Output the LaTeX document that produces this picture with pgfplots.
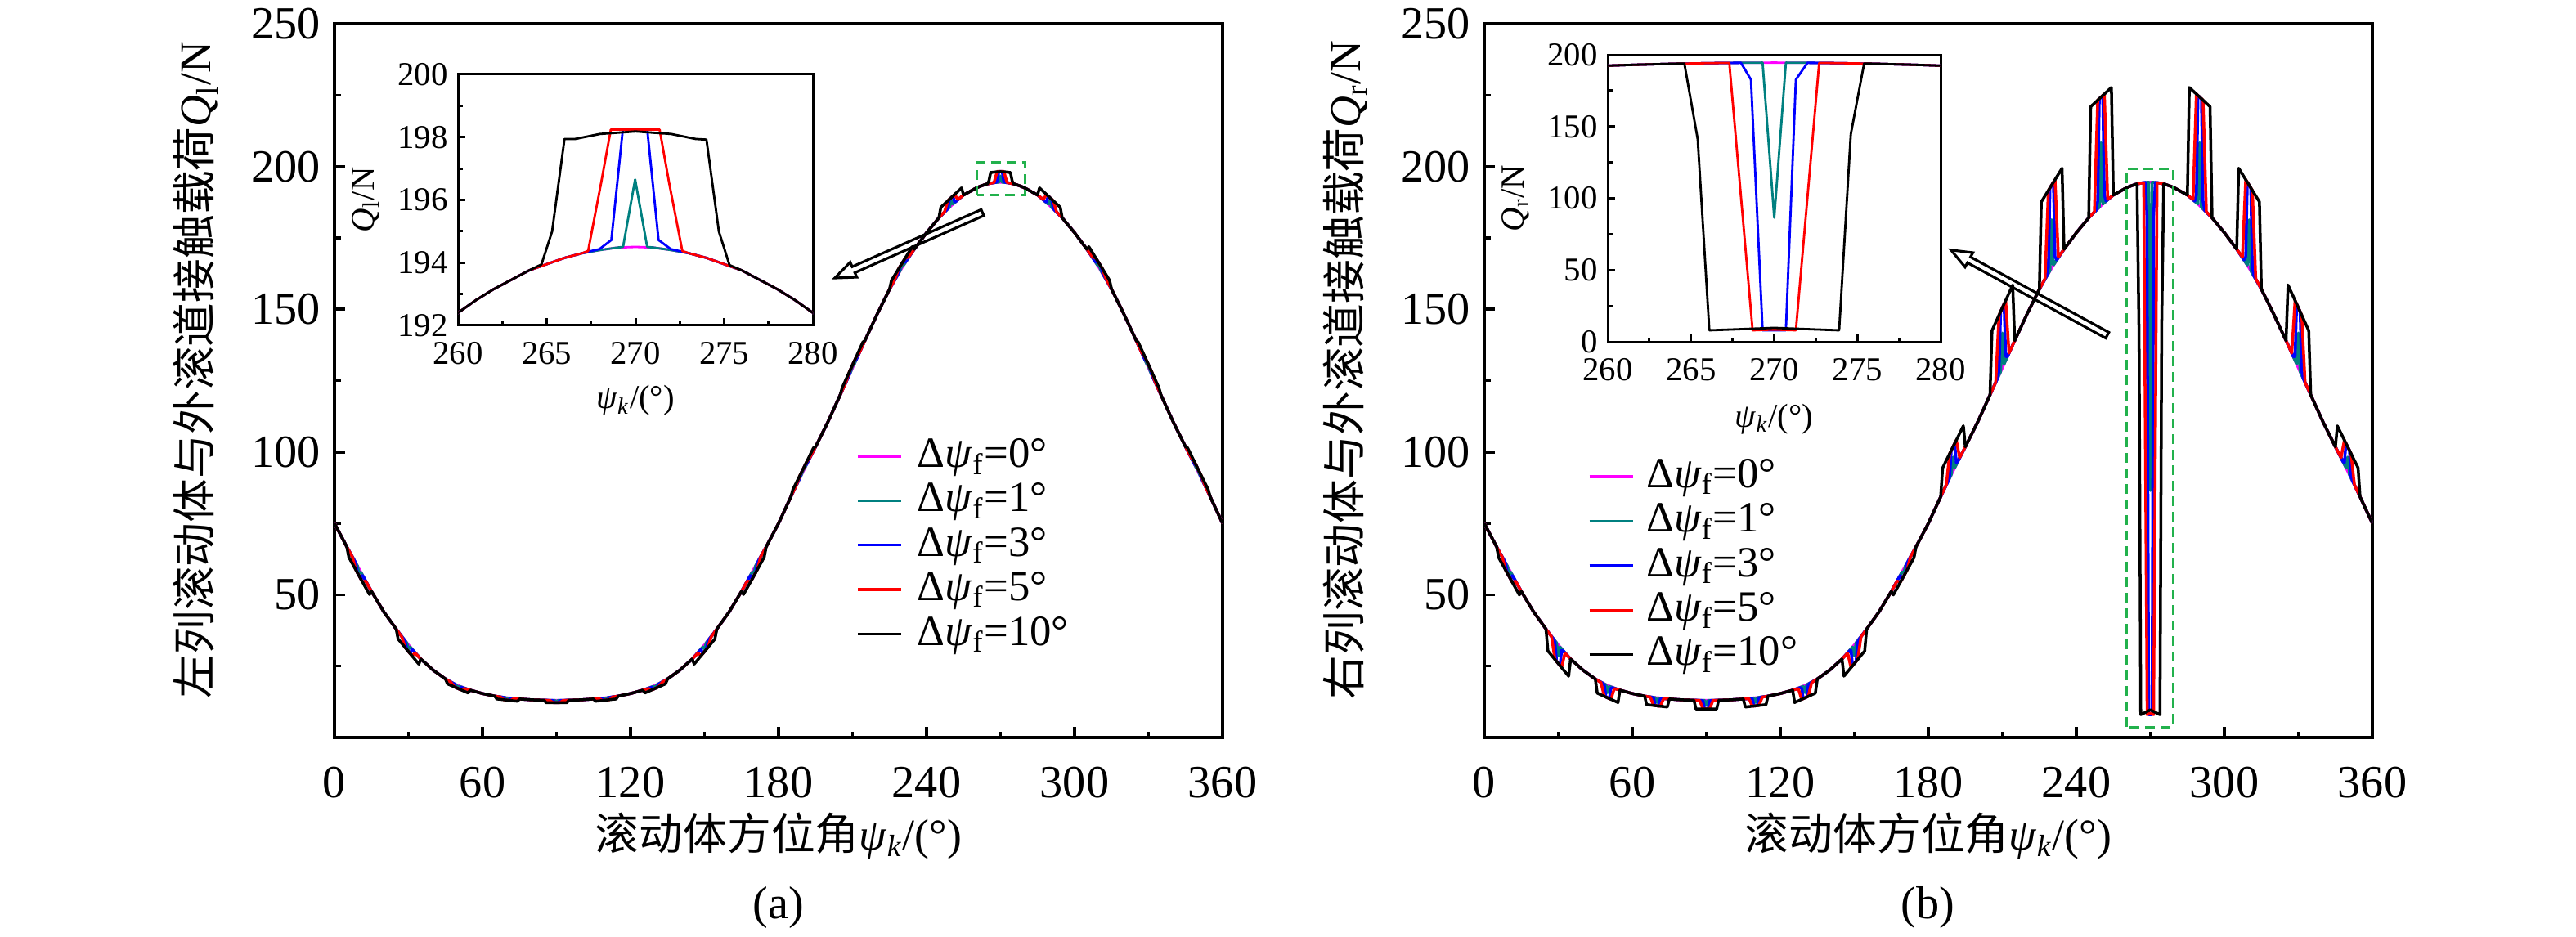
\documentclass[border=0pt]{standalone}
\usepackage{fontspec}
\setmainfont{Liberation Serif}
\newfontfamily\cjk{Noto Sans CJK SC}
\usepackage{pgfplots}
\pgfplotsset{compat=1.18}
\usepackage{pgfplotstable}
\definecolor{cMag}{RGB}{255,0,255}
\definecolor{cTeal}{RGB}{0,128,128}
\definecolor{cBlue}{RGB}{0,0,255}
\definecolor{cRed}{RGB}{255,0,0}
\definecolor{cGreen}{RGB}{34,177,76}
\newcommand{\legfont}{\fontsize{15}{15}\selectfont}

% base curve (Delta psi_f = 0)
\pgfplotstableread[row sep=\\]{x y\\
0 75.0\\ 5 66.8\\ 10 59.0\\ 15 51.2\\ 20 44.0\\ 25 38.0\\ 30 32.4\\ 35 27.5\\ 40 23.6\\ 45 20.5\\ 50 18.2\\ 55 16.6\\ 60 15.4\\ 65 14.5\\ 70 13.9\\ 75 13.5\\ 80 13.2\\ 85 13.05\\ 90 13.0\\ 95 13.05\\ 100 13.2\\ 105 13.5\\ 110 13.9\\ 115 14.5\\ 120 15.4\\ 125 16.6\\ 130 18.2\\ 135 20.5\\ 140 23.6\\ 145 27.5\\ 150 32.4\\ 155 38.0\\ 160 44.0\\ 165 51.2\\ 170 59.0\\ 175 66.8\\ 180 75.0\\ 185 84.3\\ 190 93.3\\ 195 101.8\\ 200 110.5\\ 205 120.0\\ 210 129.5\\ 215 139.0\\ 220 148.3\\ 225 157.0\\ 230 164.5\\ 235 171.0\\ 240 176.8\\ 245 182.0\\ 250 186.3\\ 255 190.0\\ 260 192.4\\ 261 192.8\\ 262 193.15\\ 263 193.45\\ 264 193.75\\ 265 193.95\\ 266 194.15\\ 267 194.3\\ 268 194.4\\ 269 194.48\\ 270 194.5\\ 271 194.48\\ 272 194.4\\ 273 194.3\\ 274 194.15\\ 275 193.95\\ 276 193.75\\ 277 193.45\\ 278 193.15\\ 279 192.8\\ 280 192.4\\ 285 190.0\\ 290 186.3\\ 295 182.0\\ 300 176.8\\ 305 171.0\\ 310 164.5\\ 315 157.0\\ 320 148.3\\ 325 139.0\\ 330 129.5\\ 335 120.0\\ 340 110.5\\ 345 101.8\\ 350 93.3\\ 355 84.3\\ 360 75.0\\
}\TM

% ---------- left row ----------
\pgfplotstableread[row sep=\\]{x y\\
0 75.0\\ 5 66.8\\ 9.3 60.09\\ 10 57.61\\ 10.7 57.91\\ 15 51.2\\ 20 44.0\\ 25 38.0\\ 29.3 33.14\\ 30 31.07\\ 30.7 31.67\\ 35 27.5\\ 40 23.6\\ 45 20.5\\ 49.3 18.47\\ 50 17.62\\ 50.7 17.93\\ 55 16.6\\ 60 15.4\\ 65 14.5\\ 69.3 13.97\\ 70 13.44\\ 70.7 13.83\\ 75 13.5\\ 80 13.2\\ 85 13.05\\ 89.3 13.0\\ 90 12.54\\ 90.7 13.0\\ 95 13.05\\ 100 13.2\\ 105 13.5\\ 109.3 13.83\\ 110 13.44\\ 110.7 13.97\\ 115 14.5\\ 120 15.4\\ 125 16.6\\ 129.3 17.93\\ 130 17.62\\ 130.7 18.47\\ 135 20.5\\ 140 23.6\\ 145 27.5\\ 149.3 31.67\\ 150 31.07\\ 150.7 33.14\\ 155 38.0\\ 160 44.0\\ 165 51.2\\ 169.3 57.91\\ 170 57.61\\ 170.7 60.09\\ 175 66.8\\ 180 75.0\\ 185 84.3\\ 189.3 92.08\\ 190 93.76\\ 190.7 94.53\\ 195 101.8\\ 200 110.5\\ 205 120.0\\ 209.3 128.17\\ 210 130.08\\ 210.7 130.83\\ 215 139.0\\ 220 148.3\\ 225 157.0\\ 229.3 163.52\\ 230 165.37\\ 230.7 165.48\\ 235 171.0\\ 240 176.8\\ 245 182.0\\ 249.3 185.74\\ 250 187.92\\ 250.7 186.86\\ 255 190.0\\ 260 192.4\\ 261 192.8\\ 262 193.15\\ 263 193.45\\ 264 193.75\\ 265 193.95\\ 266 194.15\\ 267 194.3\\ 268 194.4\\ 269 194.48\\ 269.3 194.5\\ 269.98 196.65\\ 270.66 194.5\\ 271 194.48\\ 272 194.4\\ 273 194.3\\ 274 194.15\\ 275 193.95\\ 276 193.75\\ 277 193.45\\ 278 193.15\\ 279 192.8\\ 280 192.4\\ 285 190.0\\ 289.3 186.86\\ 290 187.92\\ 290.7 185.74\\ 295 182.0\\ 300 176.8\\ 305 171.0\\ 309.3 165.48\\ 310 165.37\\ 310.7 163.52\\ 315 157.0\\ 320 148.3\\ 325 139.0\\ 329.3 130.83\\ 330 130.08\\ 330.7 128.17\\ 335 120.0\\ 340 110.5\\ 345 101.8\\ 349.3 94.53\\ 350 93.76\\ 350.7 92.08\\ 355 84.3\\ 360 75.0\\
}\TL

\pgfplotstableread[row sep=\\]{x y\\
0 75.0\\ 5 66.8\\ 8 62.12\\ 8.65 60.94\\ 9.3 57.69\\ 10.7 55.51\\ 11.35 56.72\\ 12 55.88\\ 15 51.2\\ 20 44.0\\ 25 38.0\\ 28 34.5\\ 28.65 33.66\\ 29.3 30.84\\ 30.7 29.37\\ 31.35 30.82\\ 32 30.3\\ 35 27.5\\ 40 23.6\\ 45 20.5\\ 48 18.98\\ 48.65 18.66\\ 49.3 17.47\\ 50.7 16.93\\ 51.35 17.6\\ 52 17.42\\ 55 16.6\\ 60 15.4\\ 65 14.5\\ 68 14.1\\ 68.65 13.98\\ 69.3 13.17\\ 70.7 13.03\\ 71.35 13.71\\ 72 13.7\\ 75 13.5\\ 80 13.2\\ 85 13.05\\ 88 13.0\\ 88.65 12.94\\ 89.3 12.2\\ 90.7 12.2\\ 91.35 12.94\\ 92 13.0\\ 95 13.05\\ 100 13.2\\ 105 13.5\\ 108 13.7\\ 108.65 13.71\\ 109.3 13.03\\ 110.7 13.17\\ 111.35 13.98\\ 112 14.1\\ 115 14.5\\ 120 15.4\\ 125 16.6\\ 128 17.42\\ 128.65 17.6\\ 129.3 16.93\\ 130.7 17.47\\ 131.35 18.66\\ 132 18.98\\ 135 20.5\\ 140 23.6\\ 145 27.5\\ 148 30.3\\ 148.65 30.82\\ 149.3 29.37\\ 150.7 30.84\\ 151.35 33.66\\ 152 34.5\\ 155 38.0\\ 160 44.0\\ 165 51.2\\ 168 55.88\\ 168.65 56.72\\ 169.3 55.51\\ 170.7 57.69\\ 171.35 60.94\\ 172 62.12\\ 175 66.8\\ 180 75.0\\ 185 84.3\\ 188 89.8\\ 188.65 91.0\\ 189.3 92.88\\ 190.7 95.33\\ 191.35 95.72\\ 192 96.8\\ 195 101.8\\ 200 110.5\\ 205 120.0\\ 208 125.7\\ 208.65 127.01\\ 209.3 129.17\\ 210.7 131.83\\ 211.35 132.14\\ 212 133.3\\ 215 139.0\\ 220 148.3\\ 225 157.0\\ 228 161.7\\ 228.65 162.71\\ 229.3 165.02\\ 230.7 166.98\\ 231.35 166.49\\ 232 167.3\\ 235 171.0\\ 240 176.8\\ 245 182.0\\ 248 184.7\\ 248.65 185.42\\ 249.3 188.54\\ 250.7 189.66\\ 251.35 187.58\\ 252 187.9\\ 255 190.0\\ 260 192.4\\ 261 192.8\\ 262 193.15\\ 263 193.45\\ 264 193.75\\ 265 193.95\\ 266 194.15\\ 267 194.3\\ 267.97 194.43\\ 268.64 194.72\\ 269.29 198.26\\ 270.66 198.26\\ 271.3 194.72\\ 271.99 194.43\\ 273 194.3\\ 274 194.15\\ 275 193.95\\ 276 193.75\\ 277 193.45\\ 278 193.15\\ 279 192.8\\ 280 192.4\\ 285 190.0\\ 288 187.9\\ 288.65 187.58\\ 289.3 189.66\\ 290.7 188.54\\ 291.35 185.42\\ 292 184.7\\ 295 182.0\\ 300 176.8\\ 305 171.0\\ 308 167.3\\ 308.65 166.49\\ 309.3 166.98\\ 310.7 165.02\\ 311.35 162.71\\ 312 161.7\\ 315 157.0\\ 320 148.3\\ 325 139.0\\ 328 133.3\\ 328.65 132.14\\ 329.3 131.83\\ 330.7 129.17\\ 331.35 127.01\\ 332 125.7\\ 335 120.0\\ 340 110.5\\ 345 101.8\\ 348 96.8\\ 348.65 95.72\\ 349.3 95.33\\ 350.7 92.88\\ 351.35 91.0\\ 352 89.8\\ 355 84.3\\ 360 75.0\\
}\BL

\pgfplotstableread[row sep=\\]{x y\\
0 75.0\\ 5 66.8\\ 7.3 63.21\\ 8.65 58.71\\ 11.35 54.49\\ 12.7 54.79\\ 15 51.2\\ 20 44.0\\ 25 38.0\\ 27.3 35.24\\ 28.65 31.52\\ 31.35 28.68\\ 32.7 29.57\\ 35 27.5\\ 40 23.6\\ 45 20.5\\ 47.3 19.25\\ 48.65 17.73\\ 51.35 16.67\\ 52.7 17.15\\ 55 16.6\\ 60 15.4\\ 65 14.5\\ 67.3 14.17\\ 68.65 13.24\\ 71.35 12.97\\ 72.7 13.63\\ 75 13.5\\ 80 13.2\\ 85 13.05\\ 87.3 13.0\\ 88.65 12.2\\ 91.35 12.2\\ 92.7 13.0\\ 95 13.05\\ 100 13.2\\ 105 13.5\\ 107.3 13.63\\ 108.65 12.97\\ 111.35 13.24\\ 112.7 14.17\\ 115 14.5\\ 120 15.4\\ 125 16.6\\ 127.3 17.15\\ 128.65 16.67\\ 131.35 17.73\\ 132.7 19.25\\ 135 20.5\\ 140 23.6\\ 145 27.5\\ 147.3 29.57\\ 148.65 28.68\\ 151.35 31.52\\ 152.7 35.24\\ 155 38.0\\ 160 44.0\\ 165 51.2\\ 167.3 54.79\\ 168.65 54.49\\ 171.35 58.71\\ 172.7 63.21\\ 175 66.8\\ 180 75.0\\ 185 84.3\\ 187.3 88.58\\ 188.65 91.74\\ 191.35 96.46\\ 192.7 98.03\\ 195 101.8\\ 200 110.5\\ 205 120.0\\ 207.3 124.37\\ 208.65 127.94\\ 211.35 133.07\\ 212.7 134.63\\ 215 139.0\\ 220 148.3\\ 225 157.0\\ 227.3 160.72\\ 228.65 164.11\\ 231.35 167.89\\ 232.7 168.28\\ 235 171.0\\ 240 176.8\\ 245 182.0\\ 247.3 184.14\\ 248.65 188.02\\ 251.35 190.18\\ 252.7 188.46\\ 255 190.0\\ 260 192.4\\ 261 192.8\\ 262 193.15\\ 263 193.45\\ 264 193.75\\ 265 193.95\\ 266 194.15\\ 267 194.3\\ 267.33 194.37\\ 268.06 196.53\\ 268.61 198.24\\ 271.36 198.24\\ 271.9 196.53\\ 272.64 194.37\\ 273 194.3\\ 274 194.15\\ 275 193.95\\ 276 193.75\\ 277 193.45\\ 278 193.15\\ 279 192.8\\ 280 192.4\\ 285 190.0\\ 287.3 188.46\\ 288.65 190.18\\ 291.35 188.02\\ 292.7 184.14\\ 295 182.0\\ 300 176.8\\ 305 171.0\\ 307.3 168.28\\ 308.65 167.89\\ 311.35 164.11\\ 312.7 160.72\\ 315 157.0\\ 320 148.3\\ 325 139.0\\ 327.3 134.63\\ 328.65 133.07\\ 331.35 127.94\\ 332.7 124.37\\ 335 120.0\\ 340 110.5\\ 345 101.8\\ 347.3 98.03\\ 348.65 96.46\\ 351.35 91.74\\ 352.7 88.58\\ 355 84.3\\ 360 75.0\\
}\RL

\pgfplotstableread[row sep=\\]{x y\\
0 75.0\\ 5 66.8\\ 5.8 63.2\\ 10 56.6\\ 14.2 50.1\\ 15 51.2\\ 20 44.0\\ 25 38.0\\ 25.8 34.5\\ 30 30.1\\ 34.2 25.7\\ 35 27.5\\ 40 23.6\\ 45 20.5\\ 45.8 18.8\\ 50 17.2\\ 54.2 15.6\\ 55 16.6\\ 60 15.4\\ 65 14.5\\ 65.8 13.5\\ 70 13.1\\ 74.2 12.7\\ 75 13.5\\ 80 13.2\\ 85 13.05\\ 85.8 12.2\\ 90 12.2\\ 94.2 12.2\\ 95 13.05\\ 100 13.2\\ 105 13.5\\ 105.8 12.7\\ 110 13.1\\ 114.2 13.5\\ 115 14.5\\ 120 15.4\\ 125 16.6\\ 125.8 15.6\\ 130 17.2\\ 134.2 18.8\\ 135 20.5\\ 140 23.6\\ 145 27.5\\ 145.8 25.7\\ 150 30.1\\ 154.2 34.5\\ 155 38.0\\ 160 44.0\\ 165 51.2\\ 165.8 50.1\\ 170 56.6\\ 174.2 63.2\\ 175 66.8\\ 180 75.0\\ 185 84.3\\ 185.8 86.8\\ 190 94.1\\ 194.2 101.5\\ 195 101.8\\ 200 110.5\\ 205 120.0\\ 205.8 122.5\\ 210 130.5\\ 214.2 138.5\\ 215 139.0\\ 220 148.3\\ 225 157.0\\ 225.8 160.1\\ 230 166.0\\ 234.2 171.9\\ 235 171.0\\ 240 176.8\\ 245 182.0\\ 245.8 185.7\\ 250 189.1\\ 254.2 192.5\\ 255 190.0\\ 260 192.4\\ 261 192.8\\ 262 193.15\\ 263 193.45\\ 264 193.75\\ 264.7 193.94\\ 265.3 194.99\\ 266.0 197.94\\ 266.6 197.94\\ 268 198.1\\ 270 198.18\\ 272 198.1\\ 273.4 197.94\\ 274.0 197.92\\ 274.7 194.99\\ 275.3 193.92\\ 276 193.75\\ 277 193.45\\ 278 193.15\\ 279 192.8\\ 280 192.4\\ 285 190.0\\ 285.8 192.5\\ 290 189.1\\ 294.2 185.7\\ 295 182.0\\ 300 176.8\\ 305 171.0\\ 305.8 171.9\\ 310 166.0\\ 314.2 160.1\\ 315 157.0\\ 320 148.3\\ 325 139.0\\ 325.8 138.5\\ 330 130.5\\ 334.2 122.5\\ 335 120.0\\ 340 110.5\\ 345 101.8\\ 345.8 101.5\\ 350 94.1\\ 354.2 86.8\\ 355 84.3\\ 360 75.0\\
}\KL

% ---------- right row ----------
\pgfplotstableread[row sep=\\]{x y\\
0 75.0\\ 5 66.8\\ 9.3 60.09\\ 10 57.55\\ 10.7 57.91\\ 15 51.2\\ 20 44.0\\ 25 38.0\\ 29.3 33.14\\ 30 28.63\\ 30.7 31.67\\ 35 27.5\\ 40 23.6\\ 45 20.5\\ 49.3 18.47\\ 50 15.71\\ 50.7 17.93\\ 55 16.6\\ 60 15.4\\ 65 14.5\\ 69.3 13.97\\ 70 12.28\\ 70.7 13.83\\ 75 13.5\\ 80 13.2\\ 85 13.05\\ 89.3 13.0\\ 90 11.26\\ 90.7 13.0\\ 95 13.05\\ 100 13.2\\ 105 13.5\\ 109.3 13.83\\ 110 12.28\\ 110.7 13.97\\ 115 14.5\\ 120 15.4\\ 125 16.6\\ 129.3 17.93\\ 130 15.71\\ 130.7 18.47\\ 135 20.5\\ 140 23.6\\ 145 27.5\\ 149.3 31.67\\ 150 28.63\\ 150.7 33.14\\ 155 38.0\\ 160 44.0\\ 165 51.2\\ 169.3 57.91\\ 170 57.55\\ 170.7 60.09\\ 175 66.8\\ 180 75.0\\ 185 84.3\\ 189.3 92.08\\ 190 98.23\\ 190.7 94.53\\ 195 101.8\\ 200 110.5\\ 205 120.0\\ 209.3 128.17\\ 210 141.68\\ 210.7 130.83\\ 215 139.0\\ 220 148.3\\ 225 157.0\\ 229.3 163.52\\ 230 181.32\\ 230.7 165.48\\ 235 171.0\\ 240 176.8\\ 245 182.0\\ 249.3 185.74\\ 250 208.34\\ 250.7 186.86\\ 255 190.0\\ 260 192.4\\ 261 192.8\\ 262 193.15\\ 263 193.45\\ 264 193.75\\ 265 193.95\\ 266 194.15\\ 267 194.3\\ 268 194.4\\ 269 194.48\\ 269.3 194.5\\ 270 86.5\\ 270.7 194.5\\ 271 194.48\\ 272 194.4\\ 273 194.3\\ 274 194.15\\ 275 193.95\\ 276 193.75\\ 277 193.45\\ 278 193.15\\ 279 192.8\\ 280 192.4\\ 285 190.0\\ 289.3 186.86\\ 290 208.34\\ 290.7 185.74\\ 295 182.0\\ 300 176.8\\ 305 171.0\\ 309.3 165.48\\ 310 181.32\\ 310.7 163.52\\ 315 157.0\\ 320 148.3\\ 325 139.0\\ 329.3 130.83\\ 330 141.68\\ 330.7 128.17\\ 335 120.0\\ 340 110.5\\ 345 101.8\\ 349.3 94.53\\ 350 98.23\\ 350.7 92.08\\ 355 84.3\\ 360 75.0\\
}\TR

\pgfplotstableread[row sep=\\]{x y\\
0 75.0\\ 5 66.8\\ 8 62.12\\ 8.65 60.93\\ 9.3 57.59\\ 10.7 55.41\\ 11.35 56.71\\ 12 55.88\\ 15 51.2\\ 20 44.0\\ 25 38.0\\ 28 34.5\\ 28.65 33.36\\ 29.3 26.64\\ 30.7 25.17\\ 31.35 30.52\\ 32 30.3\\ 35 27.5\\ 40 23.6\\ 45 20.5\\ 48 18.98\\ 48.65 18.43\\ 49.3 14.17\\ 50.7 13.63\\ 51.35 17.37\\ 52 17.42\\ 55 16.6\\ 60 15.4\\ 65 14.5\\ 68 14.1\\ 68.65 13.84\\ 69.3 11.17\\ 70.7 11.03\\ 71.35 13.57\\ 72 13.7\\ 75 13.5\\ 80 13.2\\ 85 13.05\\ 88 13.0\\ 88.65 12.79\\ 89.3 10.0\\ 90.7 10.0\\ 91.35 12.79\\ 92 13.0\\ 95 13.05\\ 100 13.2\\ 105 13.5\\ 108 13.7\\ 108.65 13.57\\ 109.3 11.03\\ 110.7 11.17\\ 111.35 13.84\\ 112 14.1\\ 115 14.5\\ 120 15.4\\ 125 16.6\\ 128 17.42\\ 128.65 17.37\\ 129.3 13.63\\ 130.7 14.17\\ 131.35 18.43\\ 132 18.98\\ 135 20.5\\ 140 23.6\\ 145 27.5\\ 148 30.3\\ 148.65 30.52\\ 149.3 25.17\\ 150.7 26.64\\ 151.35 33.36\\ 152 34.5\\ 155 38.0\\ 160 44.0\\ 165 51.2\\ 168 55.88\\ 168.65 56.71\\ 169.3 55.41\\ 170.7 57.59\\ 171.35 60.93\\ 172 62.12\\ 175 66.8\\ 180 75.0\\ 185 84.3\\ 188 89.8\\ 188.65 91.54\\ 189.3 100.58\\ 190.7 103.03\\ 191.35 96.26\\ 192 96.8\\ 195 101.8\\ 200 110.5\\ 205 120.0\\ 208 125.7\\ 208.65 128.41\\ 209.3 149.17\\ 210.7 151.83\\ 211.35 133.54\\ 212 133.3\\ 215 139.0\\ 220 148.3\\ 225 157.0\\ 228 161.7\\ 228.65 164.64\\ 229.3 192.52\\ 230.7 194.48\\ 231.35 168.42\\ 232 167.3\\ 235 171.0\\ 240 176.8\\ 245 182.0\\ 248 184.7\\ 248.65 187.88\\ 249.3 223.74\\ 250.7 224.86\\ 251.35 190.04\\ 252 187.9\\ 255 190.0\\ 260 192.4\\ 261 192.8\\ 262 193.15\\ 263 193.45\\ 264 193.75\\ 265 193.95\\ 266 194.15\\ 267 194.3\\ 268.0 194.4\\ 268.6 182.7\\ 269.3 8.0\\ 270.7 8.0\\ 271.3 182.7\\ 272.0 194.4\\ 273 194.3\\ 274 194.15\\ 275 193.95\\ 276 193.75\\ 277 193.45\\ 278 193.15\\ 279 192.8\\ 280 192.4\\ 285 190.0\\ 288 187.9\\ 288.65 190.04\\ 289.3 224.86\\ 290.7 223.74\\ 291.35 187.88\\ 292 184.7\\ 295 182.0\\ 300 176.8\\ 305 171.0\\ 308 167.3\\ 308.65 168.42\\ 309.3 194.48\\ 310.7 192.52\\ 311.35 164.64\\ 312 161.7\\ 315 157.0\\ 320 148.3\\ 325 139.0\\ 328 133.3\\ 328.65 133.54\\ 329.3 151.83\\ 330.7 149.17\\ 331.35 128.41\\ 332 125.7\\ 335 120.0\\ 340 110.5\\ 345 101.8\\ 348 96.8\\ 348.65 96.26\\ 349.3 103.03\\ 350.7 100.58\\ 351.35 91.54\\ 352 89.8\\ 355 84.3\\ 360 75.0\\
}\BR

\pgfplotstableread[row sep=\\]{x y\\
0 75.0\\ 5 66.8\\ 7.3 63.21\\ 8.65 58.61\\ 11.35 54.39\\ 12.7 54.79\\ 15 51.2\\ 20 44.0\\ 25 38.0\\ 27.3 35.24\\ 28.65 27.32\\ 31.35 24.48\\ 32.7 29.57\\ 35 27.5\\ 40 23.6\\ 45 20.5\\ 47.3 19.25\\ 48.65 14.43\\ 51.35 13.37\\ 52.7 17.15\\ 55 16.6\\ 60 15.4\\ 65 14.5\\ 67.3 14.17\\ 68.65 11.24\\ 71.35 10.97\\ 72.7 13.63\\ 75 13.5\\ 80 13.2\\ 85 13.05\\ 87.3 13.0\\ 88.65 10.0\\ 91.35 10.0\\ 92.7 13.0\\ 95 13.05\\ 100 13.2\\ 105 13.5\\ 107.3 13.63\\ 108.65 10.97\\ 111.35 11.24\\ 112.7 14.17\\ 115 14.5\\ 120 15.4\\ 125 16.6\\ 127.3 17.15\\ 128.65 13.37\\ 131.35 14.43\\ 132.7 19.25\\ 135 20.5\\ 140 23.6\\ 145 27.5\\ 147.3 29.57\\ 148.65 24.48\\ 151.35 27.32\\ 152.7 35.24\\ 155 38.0\\ 160 44.0\\ 165 51.2\\ 167.3 54.79\\ 168.65 54.39\\ 171.35 58.61\\ 172.7 63.21\\ 175 66.8\\ 180 75.0\\ 185 84.3\\ 187.3 88.58\\ 188.65 99.44\\ 191.35 104.16\\ 192.7 98.03\\ 195 101.8\\ 200 110.5\\ 205 120.0\\ 207.3 124.37\\ 208.65 147.94\\ 211.35 153.07\\ 212.7 134.63\\ 215 139.0\\ 220 148.3\\ 225 157.0\\ 227.3 160.72\\ 228.65 191.61\\ 231.35 195.39\\ 232.7 168.28\\ 235 171.0\\ 240 176.8\\ 245 182.0\\ 247.3 184.14\\ 248.65 223.22\\ 251.35 225.38\\ 252.7 188.46\\ 255 190.0\\ 260 192.4\\ 261 192.8\\ 262 193.15\\ 263 193.45\\ 264 193.75\\ 265 193.95\\ 266 194.15\\ 267 194.3\\ 267.3 194.3\\ 268.7 8.0\\ 270 8.5\\ 271.3 8.0\\ 272.7 194.3\\ 273 194.3\\ 274 194.15\\ 275 193.95\\ 276 193.75\\ 277 193.45\\ 278 193.15\\ 279 192.8\\ 280 192.4\\ 285 190.0\\ 287.3 188.46\\ 288.65 225.38\\ 291.35 223.22\\ 292.7 184.14\\ 295 182.0\\ 300 176.8\\ 305 171.0\\ 307.3 168.28\\ 308.65 195.39\\ 311.35 191.61\\ 312.7 160.72\\ 315 157.0\\ 320 148.3\\ 325 139.0\\ 327.3 134.63\\ 328.65 153.07\\ 331.35 147.94\\ 332.7 124.37\\ 335 120.0\\ 340 110.5\\ 345 101.8\\ 347.3 98.03\\ 348.65 104.16\\ 351.35 99.44\\ 352.7 88.58\\ 355 84.3\\ 360 75.0\\
}\RR

\pgfplotstableread[row sep=\\]{x y\\
0 75.0\\ 5 66.8\\ 5.8 63.05\\ 10 56.5\\ 14.2 49.95\\ 15 51.2\\ 20 44.0\\ 25 38.0\\ 25.8 30.31\\ 30 25.9\\ 34.2 21.49\\ 35 27.5\\ 40 23.6\\ 45 20.5\\ 45.8 15.54\\ 50 13.9\\ 54.2 12.26\\ 55 16.6\\ 60 15.4\\ 65 14.5\\ 65.8 11.52\\ 70 11.1\\ 74.2 10.68\\ 75 13.5\\ 80 13.2\\ 85 13.05\\ 85.8 10.0\\ 90 10.0\\ 94.2 10.0\\ 95 13.05\\ 100 13.2\\ 105 13.5\\ 105.8 10.68\\ 110 11.1\\ 114.2 11.52\\ 115 14.5\\ 120 15.4\\ 125 16.6\\ 125.8 12.26\\ 130 13.9\\ 134.2 15.54\\ 135 20.5\\ 140 23.6\\ 145 27.5\\ 145.8 21.49\\ 150 25.9\\ 154.2 30.31\\ 155 38.0\\ 160 44.0\\ 165 51.2\\ 165.8 49.95\\ 170 56.5\\ 174.2 63.05\\ 175 66.8\\ 180 75.0\\ 185 84.3\\ 185.8 94.45\\ 190 101.8\\ 194.2 109.15\\ 195 101.8\\ 200 110.5\\ 205 120.0\\ 205.8 142.52\\ 210 150.5\\ 214.2 158.48\\ 215 139.0\\ 220 148.3\\ 225 157.0\\ 225.8 187.62\\ 230 193.5\\ 234.2 199.38\\ 235 171.0\\ 240 176.8\\ 245 182.0\\ 245.8 220.94\\ 250 224.3\\ 254.2 227.66\\ 255 190.0\\ 260 192.4\\ 261 192.8\\ 262 193.15\\ 263 193.45\\ 264 193.75\\ 264.6 193.9\\ 265.4 141.2\\ 266.1 8.0\\ 268 8.8\\ 270 9.7\\ 272 8.8\\ 273.9 8.0\\ 274.6 144.6\\ 275.4 193.9\\ 276 193.75\\ 277 193.45\\ 278 193.15\\ 279 192.8\\ 280 192.4\\ 285 190.0\\ 285.8 227.66\\ 290 224.3\\ 294.2 220.94\\ 295 182.0\\ 300 176.8\\ 305 171.0\\ 305.8 199.38\\ 310 193.5\\ 314.2 187.62\\ 315 157.0\\ 320 148.3\\ 325 139.0\\ 325.8 158.48\\ 330 150.5\\ 334.2 142.52\\ 335 120.0\\ 340 110.5\\ 345 101.8\\ 345.8 109.15\\ 350 101.8\\ 354.2 94.45\\ 355 84.3\\ 360 75.0\\
}\KR

\pgfplotsset{
  sM/.style={color=cMag, line width=1pt, line join=round},
  sT/.style={color=cTeal, line width=1pt, line join=round},
  sB/.style={color=cBlue, line width=1pt, line join=round},
  sR/.style={color=cRed, line width=1pt, line join=round},
  sK/.style={color=black, line width=1pt, line join=round},
  mainax/.style={
    scale only axis, width=10.86cm, height=8.73cm, anchor=south west,
    xmin=0, xmax=360, ymin=0, ymax=250,
    xtick={0,60,...,360}, minor xtick={30,90,...,330},
    ytick={50,100,...,250}, minor ytick={25,75,...,225},
    tick align=inside, tick pos=left,
    major tick length=0.13cm, minor tick length=0.075cm,
    axis line style={line width=1pt},
    tick style={line width=1pt, black},
    ticklabel style={font=\fontsize{16}{16}\selectfont},
    /pgf/number format/assume math mode=true,
    xticklabel style={yshift=-0.24cm},
    yticklabel style={xshift=-0.05cm},
    label style={font=\fontsize{15.3}{15.3}\selectfont},
    xlabel style={at={(axis description cs:0.5,-0.1375)}, anchor=center},
    ylabel style={at={(axis description cs:-0.156,0.515)}, anchor=center},
    xlabel={{\cjk 滚动体方位角}\textit{ψ}\textsubscript{\textit{k}}/(°)},
    no markers,
  },
  insetax/.style={
    scale only axis, anchor=south west,
    xmin=260, xmax=280, xtick={260,265,...,280}, minor xtick={262.5,267.5,272.5,277.5},
    tick align=inside, tick pos=left,
    major tick length=0.09cm, minor tick length=0.055cm,
    axis line style={line width=0.85pt},
    tick style={line width=0.85pt, black},
    ticklabel style={font=\fontsize{11.6}{11.6}\selectfont},
    /pgf/number format/assume math mode=true,
    xticklabel style={yshift=-0.08cm},
    label style={font=\fontsize{11.6}{11.6}\selectfont},
    axis background/.style={fill=white},
    xlabel={\textit{ψ}\textsubscript{\textit{k}}/(°)},
    no markers,
  },
}

\begin{document}
\begin{tikzpicture}
\path[use as bounding box] (0,0) rectangle (31.5,11.45);

% ================= (a) =================
\begin{axis}[mainax, at={(4.09cm,2.43cm)},
  ylabel={{\cjk 左列滚动体与外滚道接触载荷}\textit{Q}\textsubscript{l}/N}]
\addplot[sM] table {\TM};
\addplot[sT] table {\TL};
\addplot[sB] table {\BL};
\addplot[sR] table {\RL};
\addplot[sK] table {\KL};
\draw[cGreen, line width=0.9pt, dash pattern=on 0.12cm off 0.07cm] (axis cs:260.5,190) rectangle (axis cs:280,201.5);
% legend
\draw[cMag, line width=0.9pt] (axis description cs:0.5896,0.3937) -- ++(0.53cm,0);
\draw[cTeal, line width=0.9pt] (axis description cs:0.5896,0.3319) -- ++(0.53cm,0);
\draw[cBlue, line width=0.9pt] (axis description cs:0.5896,0.2695) -- ++(0.53cm,0);
\draw[cRed, line width=0.9pt] (axis description cs:0.5896,0.2073) -- ++(0.53cm,0);
\draw[black, line width=0.9pt] (axis description cs:0.5896,0.1447) -- ++(0.53cm,0);
\node[anchor=base west, inner sep=0pt, font=\legfont] at ([yshift=-0.134cm]axis description cs:0.6558,0.3937) {Δ\textit{ψ}\textsubscript{f}=0°};
\node[anchor=base west, inner sep=0pt, font=\legfont] at ([yshift=-0.134cm]axis description cs:0.6558,0.3319) {Δ\textit{ψ}\textsubscript{f}=1°};
\node[anchor=base west, inner sep=0pt, font=\legfont] at ([yshift=-0.134cm]axis description cs:0.6558,0.2695) {Δ\textit{ψ}\textsubscript{f}=3°};
\node[anchor=base west, inner sep=0pt, font=\legfont] at ([yshift=-0.134cm]axis description cs:0.6558,0.2073) {Δ\textit{ψ}\textsubscript{f}=5°};
\node[anchor=base west, inner sep=0pt, font=\legfont] at ([yshift=-0.134cm]axis description cs:0.6558,0.1447) {Δ\textit{ψ}\textsubscript{f}=10°};
\end{axis}

\begin{axis}[insetax, at={(5.60cm,7.47cm)}, width=4.34cm, height=3.07cm,
  ymin=192, ymax=200, ytick={192,194,...,200}, minor ytick={193,195,197,199},
  ylabel={\textit{Q}\textsubscript{l}/N},
  ylabel style={at={(axis description cs:-0.26,0.5)}, anchor=center},
  xlabel style={at={(axis description cs:0.5,-0.30)}, anchor=center}]
\addplot[sM, line width=0.8pt] table {\TM};
\addplot[sT, line width=0.8pt] table {\TL};
\addplot[sB, line width=0.8pt] table {\BL};
\addplot[sR, line width=0.8pt] table {\RL};
\addplot[sK, line width=0.8pt] table {\KL};
\end{axis}

\draw[line width=0.9pt, line join=miter, shift={(12.014,8.85)}, rotate=203.9]
  (0,-0.04) -- (1.725,-0.04) -- (1.725,-0.10) -- (1.975,0) -- (1.725,0.10) -- (1.725,0.04) -- (0,0.04) -- cycle;

\node[font=\fontsize{16}{16}\selectfont] at (9.52,0.35) {(a)};

% ================= (b) =================
\begin{axis}[mainax, at={(18.15cm,2.43cm)},
  ylabel={{\cjk 右列滚动体与外滚道接触载荷}\textit{Q}\textsubscript{r}/N}]
\addplot[sM] table {\TM};
\addplot[sT] table {\TR};
\addplot[sB] table {\BR};
\addplot[sR] table {\RR};
\addplot[sK] table {\KR};
\draw[cGreen, line width=0.9pt, dash pattern=on 0.12cm off 0.07cm] (axis cs:260.5,3.7) rectangle (axis cs:279.2,199.2);
% legend
\draw[cMag, line width=0.9pt] (axis description cs:0.1183,0.3654) -- ++(0.53cm,0);
\draw[cTeal, line width=0.9pt] (axis description cs:0.1183,0.3031) -- ++(0.53cm,0);
\draw[cBlue, line width=0.9pt] (axis description cs:0.1183,0.2408) -- ++(0.53cm,0);
\draw[cRed, line width=0.9pt] (axis description cs:0.1183,0.1785) -- ++(0.53cm,0);
\draw[black, line width=0.9pt] (axis description cs:0.1183,0.1162) -- ++(0.53cm,0);
\node[anchor=base west, inner sep=0pt, font=\legfont] at ([yshift=-0.134cm]axis description cs:0.1818,0.3654) {Δ\textit{ψ}\textsubscript{f}=0°};
\node[anchor=base west, inner sep=0pt, font=\legfont] at ([yshift=-0.134cm]axis description cs:0.1818,0.3031) {Δ\textit{ψ}\textsubscript{f}=1°};
\node[anchor=base west, inner sep=0pt, font=\legfont] at ([yshift=-0.134cm]axis description cs:0.1818,0.2408) {Δ\textit{ψ}\textsubscript{f}=3°};
\node[anchor=base west, inner sep=0pt, font=\legfont] at ([yshift=-0.134cm]axis description cs:0.1818,0.1785) {Δ\textit{ψ}\textsubscript{f}=5°};
\node[anchor=base west, inner sep=0pt, font=\legfont] at ([yshift=-0.134cm]axis description cs:0.1818,0.1162) {Δ\textit{ψ}\textsubscript{f}=10°};
\end{axis}

\begin{axis}[insetax, at={(19.66cm,7.27cm)}, width=4.07cm, height=3.51cm,
  ymin=0, ymax=200, ytick={0,50,...,200}, minor ytick={25,75,125,175},
  ylabel={\textit{Q}\textsubscript{r}/N},
  ylabel style={at={(axis description cs:-0.278,0.5)}, anchor=center},
  xlabel style={at={(axis description cs:0.5,-0.27)}, anchor=center}]
\addplot[sM, line width=0.8pt] table {\TM};
\addplot[sT, line width=0.8pt] table {\TR};
\addplot[sB, line width=0.8pt] table {\BR};
\addplot[sR, line width=0.8pt] table {\RR};
\addplot[sK, line width=0.8pt] table {\KR};
\end{axis}

\draw[line width=0.9pt, line join=miter, shift={(25.768,7.35)}, rotate=151.4]
  (0,-0.04) -- (1.926,-0.04) -- (1.926,-0.10) -- (2.176,0) -- (1.926,0.10) -- (1.926,0.04) -- (0,0.04) -- cycle;

\node[font=\fontsize{16}{16}\selectfont] at (23.575,0.35) {(b)};
\end{tikzpicture}
\end{document}
